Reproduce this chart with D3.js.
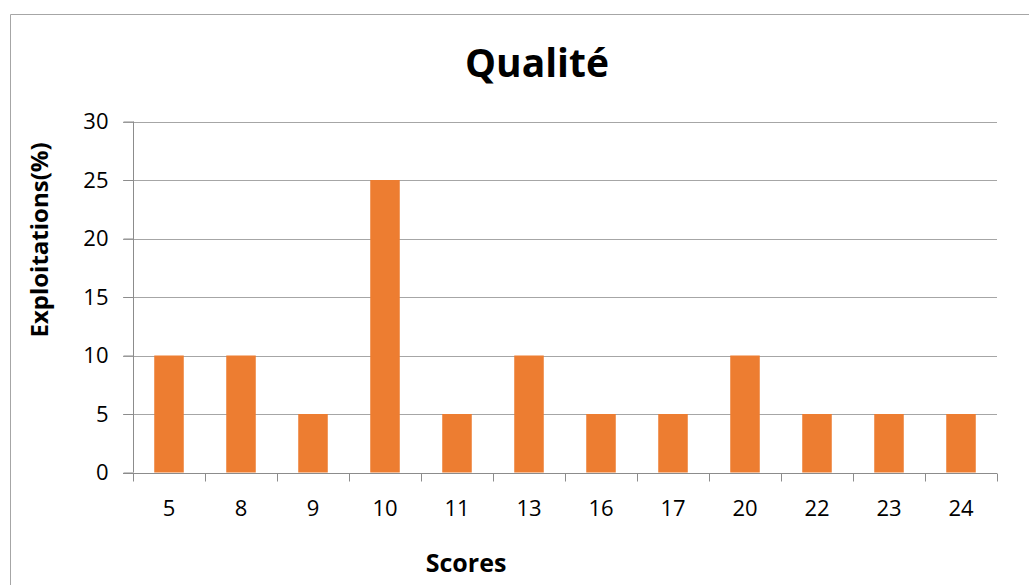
<!DOCTYPE html>
<html><head><meta charset="utf-8">
<script src="https://cdn.jsdelivr.net/npm/d3@7"></script>
<style>body{margin:0;background:#fff}svg{display:block}text{font-family:"Open Sans",sans-serif;fill:#000}</style>
</head><body><svg id="c" width="1029" height="585"></svg>
<script>
const categories = ["5","8","9","10","11","13","16","17","20","22","23","24"];
const values = [10,10,5,25,5,10,5,5,10,5,5,5];
const yTicks = [0,5,10,15,20,25,30];
const title = "Qualité";
const xTitle = "Scores";
const yTitle = "Exploitations(%)";

const svg = d3.select("#c");
const L = 133, R = 997, T = 121.5, B = 472.5;

svg.append("path").attr("d","M10.5,600 V14.5 H1029")
  .attr("fill","none").attr("stroke","#a6a6a6").attr("stroke-width",1);

const x = d3.scaleBand().domain(categories).range([L,R]).paddingInner(0.59).paddingOuter(0.295);
const xStep = d3.scaleBand().domain(categories).range([L,R]).padding(0);
const y = d3.scaleLinear().domain([0,30]).range([B,T]);

// gridlines
svg.append("g").selectAll("line").data(yTicks.filter(d=>d>0)).join("line")
  .attr("x1",L-10).attr("x2",R).attr("y1",d=>Math.round(y(d))+0.5).attr("y2",d=>Math.round(y(d))+0.5)
  .attr("stroke","#a6a6a6");

// bars
svg.append("g").selectAll("rect").data(values).join("rect")
  .attr("x",(d,i)=>x(categories[i])).attr("width",x.bandwidth())
  .attr("y",d=>y(d)).attr("height",d=>B-y(d)).attr("fill","#ED7D31");

// y axis
const yAxis = svg.append("g").attr("transform",`translate(${L+0.5},0)`)
  .call(d3.axisLeft(y).tickValues(yTicks).tickSize(10).tickPadding(15));
yAxis.select(".domain").attr("stroke","#8c8c8c").attr("d",`M0,${T}V${B}`);
yAxis.selectAll(".tick line").attr("stroke","#8c8c8c");
yAxis.selectAll("text").attr("font-size",22).attr("font-family","'Open Sans',sans-serif").attr("fill","#000");

// x axis
const xAxis = svg.append("g").attr("transform",`translate(0,${Math.round(B)+0.5})`);
xAxis.append("line").attr("x1",L-10).attr("x2",R).attr("stroke","#8c8c8c");
const bounds = categories.map(c=>xStep(c)).concat([R]);
xAxis.selectAll("line.t").data(bounds).join("line").attr("class","t")
  .attr("x1",d=>Math.round(d)+0.5).attr("x2",d=>Math.round(d)+0.5).attr("y1",0).attr("y2",8)
  .attr("stroke","#8c8c8c");
xAxis.selectAll("text").data(categories).join("text")
  .attr("x",d=>xStep(d)+xStep.bandwidth()/2).attr("y",42)
  .attr("text-anchor","middle").attr("font-size",22).text(d=>d);

// titles
svg.append("text").attr("x",537).attr("y",77).attr("text-anchor","middle")
  .attr("font-size",39).attr("font-weight","bold").text(title);
svg.append("text").attr("x",466).attr("y",572).attr("text-anchor","middle")
  .attr("font-size",25).attr("font-weight","bold").text(xTitle);
svg.append("text").attr("transform","translate(48,240) rotate(-90)").attr("text-anchor","middle")
  .attr("font-size",24).attr("font-weight","bold").text(yTitle);
</script></body></html>
